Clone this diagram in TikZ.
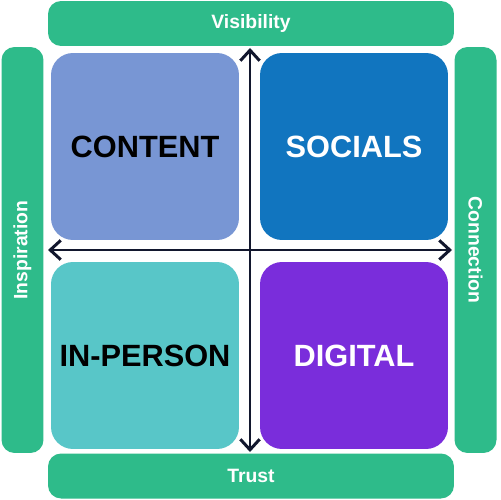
\documentclass[tikz,border=0pt]{standalone}
\usepackage{fontspec}
\setmainfont{Liberation Sans}
\usepackage{xcolor}
\usetikzlibrary{arrows.meta, positioning}

\definecolor{barGreen}{HTML}{2EBB8A}
\definecolor{contentBlue}{HTML}{7896D4}
\definecolor{socialsBlue}{HTML}{1175BF}
\definecolor{personTeal}{HTML}{58C6C8}
\definecolor{digitalPurple}{HTML}{7A2DDB}
\definecolor{axisNavy}{HTML}{12172E}

\begin{document}
\begin{tikzpicture}[
  x=0.02cm, y=-0.02cm,
  bar/.style={fill=barGreen, rounded corners=0.26cm, text=white,
              font=\bfseries\fontsize{11}{13}\selectfont, inner sep=0pt},
  hbar/.style={bar, minimum width=8.12cm, minimum height=0.9cm},
  vbar/.style={bar, minimum width=0.84cm, minimum height=8.12cm},
  quad/.style={rounded corners=0.44cm, minimum width=3.76cm, minimum height=3.74cm,
               font=\bfseries\fontsize{17.5}{20}\selectfont, inner sep=0pt},
  axis/.style={{Straight Barb[length=6pt, width=11pt, line width=1.7pt]}-{Straight Barb[length=6pt, width=11pt, line width=1.7pt]},
               line width=1.7pt, axisNavy}
]
\fill[white] (0,0) rectangle (500,500);

% side bars
\node[hbar] (vis) at (251,23.5) {Visibility};
\node[hbar] (trust) at (251,476) {Trust};
\node[vbar] (insp) at (22.5,250) {\rotatebox{90}{Inspiration}};
\node[vbar] (conn) at (475.5,250) {\rotatebox{-90}{Connection}};

% quadrants
\node[quad, fill=contentBlue, text=black] (content) at (145,146.5) {CONTENT};
\node[quad, fill=socialsBlue, text=white] (socials) at (354,146.5) {SOCIALS};
\node[quad, fill=personTeal, text=black] (inperson) at (145,355.5) {IN-PERSON};
\node[quad, fill=digitalPurple, text=white] (digital) at (354,355.5) {DIGITAL};

% axes
\coordinate (ytop) at (250,48);
\coordinate (ybot) at (250,452);
\coordinate (xleft) at (48,250);
\coordinate (xright) at (452,250);
\draw[axis] (ytop) -- (ybot);
\draw[axis] (xleft) -- (xright);
\end{tikzpicture}
\end{document}
